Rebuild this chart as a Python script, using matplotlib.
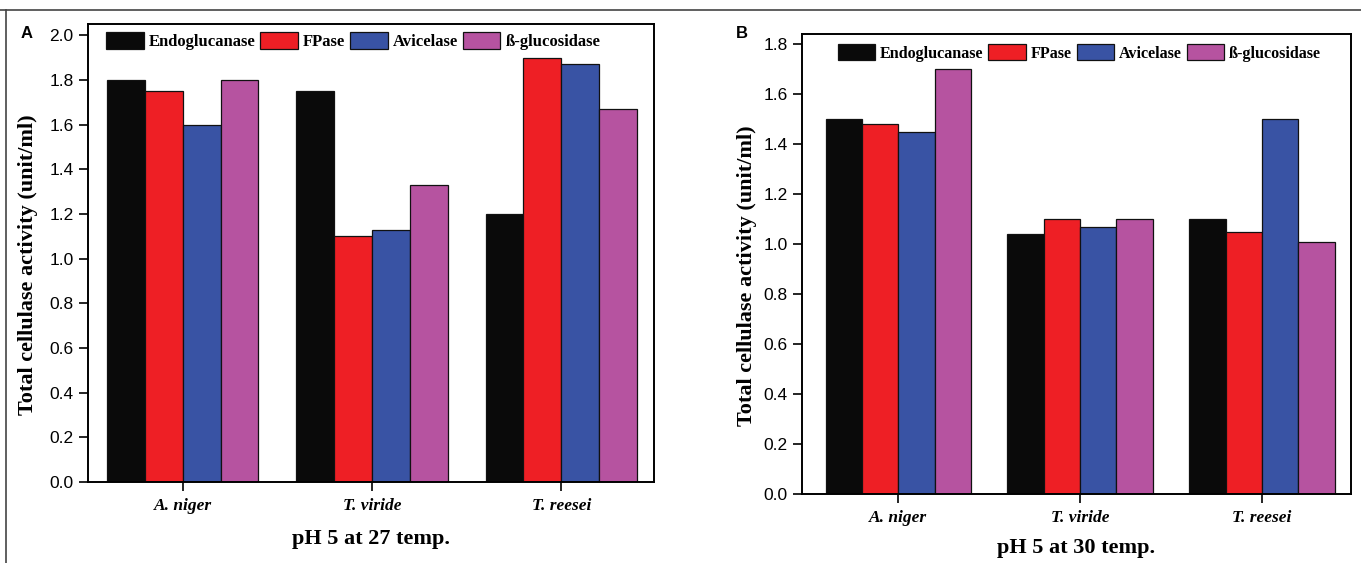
import numpy as np
import matplotlib
matplotlib.use('Agg')
import matplotlib.pyplot as plt
from matplotlib.lines import Line2D

# datos
fungi = ['A. niger', 'T. viride', 'T. reesei']
enzymes = ['Endoglucanase', 'FPase', 'Avicelase', 'ß-glucosidase']
colors = ['#0a0a0a', '#ee1f25', '#3953a4', '#b653a0']

# pH 5 a 27
endo_27 = [1.80, 1.75, 1.20]
fpase_27 = [1.75, 1.10, 1.90]
avicel_27 = [1.60, 1.13, 1.87]
bgluc_27 = [1.80, 1.33, 1.67]

# pH 5 a 30
endo_30 = [1.50, 1.04, 1.10]
fpase_30 = [1.48, 1.10, 1.05]
avicel_30 = [1.45, 1.07, 1.50]
bgluc_30 = [1.70, 1.10, 1.01]

serif = ['Liberation Serif', 'DejaVu Serif']
sans = ['Liberation Sans', 'DejaVu Sans']
W, H = 1361, 563

fig = plt.figure(figsize=(W / 100, H / 100), dpi=100)

# marco de la figura (arriba e izquierda)
fig.add_artist(Line2D([0, 1], [1 - 9.5/H, 1 - 9.5/H], transform=fig.transFigure, color='#444444', lw=1.2))
fig.add_artist(Line2D([5.5/W, 5.5/W], [0, 1 - 9.5/H], transform=fig.transFigure, color='#444444', lw=1.2))


def panel(box, series, xlim, ylim, yticks, xlabel, letter, letter_xy,
          ylabel_x, xlabel_y, leg_xy, leg_size):
    x0, y0, x1, y1 = box
    ax = fig.add_axes([x0 / W, 1 - y1 / H, (x1 - x0) / W, (y1 - y0) / H])
    x = np.arange(len(fungi))
    w = 0.2
    for i, vals in enumerate(series):
        ax.bar(x - 0.3 + i * w, vals, w, color=colors[i], edgecolor='#111111',
               linewidth=0.9, label=enzymes[i])
    ax.set_xlim(*xlim)
    ax.set_ylim(*ylim)
    ax.set_yticks(yticks)
    ax.set_yticklabels(['%.1f' % t for t in yticks], family=sans, fontsize=12.5)
    ax.set_xticks(x)
    ax.set_xticklabels(fungi, family=serif, fontsize=12.5, style='italic', weight='bold')
    ax.tick_params(axis='y', direction='out', length=6.5, width=1.2, pad=4)
    ax.tick_params(axis='x', direction='out', length=6.5, width=1.2, pad=5)
    for s in ax.spines.values():
        s.set_linewidth(1.4)
    ax.set_ylabel('Total cellulase activity (unit/ml)', family=serif, fontsize=16, weight='bold')
    ax.yaxis.set_label_coords(ylabel_x, 0.475)
    ax.set_xlabel(xlabel, family=serif, fontsize=16, weight='bold')
    ax.xaxis.set_label_coords(0.5, xlabel_y)
    hl = 37.5 / (leg_size * 100 / 72)
    ax.legend(ncol=4, loc='upper left', bbox_to_anchor=leg_xy, frameon=False,
              prop={'family': serif, 'weight': 'bold', 'size': leg_size},
              handlelength=hl, handleheight=hl * 0.5, handletextpad=0.3,
              columnspacing=0.3, borderaxespad=0, borderpad=0)
    fig.text(letter_xy[0] / W, 1 - letter_xy[1] / H, letter, family=sans, fontsize=12,
             weight='bold', ha='center', va='center')
    return ax


ax1 = panel((88, 24, 654, 482), [endo_27, fpase_27, avicel_27, bgluc_27],
            (-0.5, 2.49), (0, 2.05), np.arange(0, 2.01, 0.2),
            'pH 5 at 27 temp.', 'A', (27, 34), -0.088, -0.103, (0.032, 0.982), 12)

ax2 = panel((802, 34, 1351, 494), [endo_30, fpase_30, avicel_30, bgluc_30],
            (-0.53, 2.49), (0, 1.84), np.arange(0, 1.81, 0.2),
            'pH 5 at 30 temp.', 'B', (742, 33), -0.082, -0.096, (0.065, 0.978), 11.6)

fig.savefig('out.png', dpi=100)
